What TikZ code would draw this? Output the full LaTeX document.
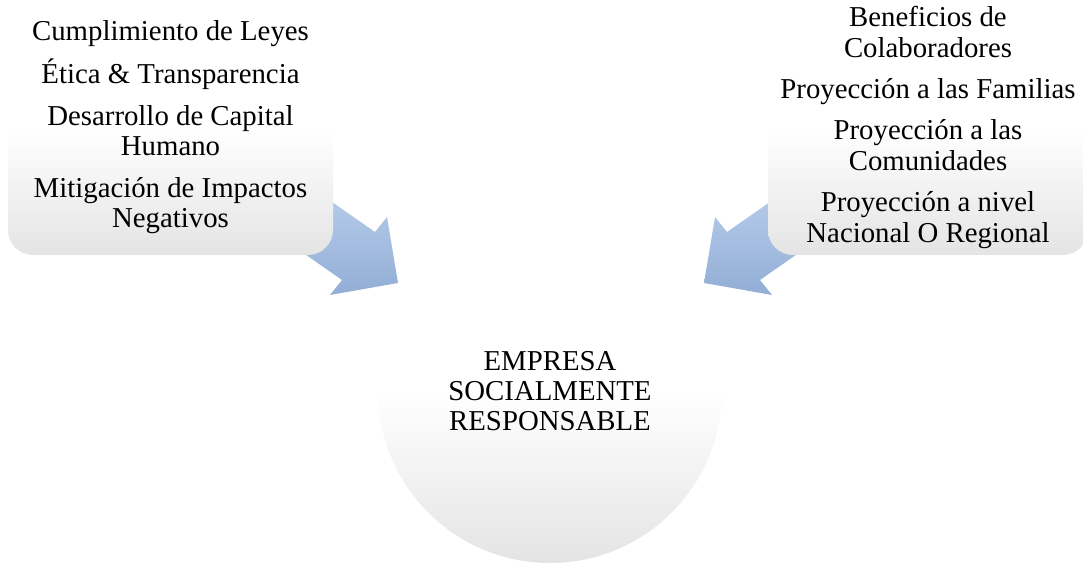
\documentclass[tikz,border=0pt]{standalone}
\usepackage{fontspec}
\setmainfont{Liberation Serif}
\definecolor{grisBajo}{RGB}{228,228,228}
\definecolor{azulAlto}{RGB}{184,205,236}
\definecolor{azulBajo}{RGB}{146,174,213}
\begin{document}
\begin{tikzpicture}[x=0.75pt,y=0.75pt,yscale=-1,xscale=1,
  caja/.style={rounded corners=18.75pt, top color=white, bottom color=grisBajo, middle color=white, inner sep=0pt, align=center},
  flecha/.style={top color=azulAlto, bottom color=azulBajo},
  texto/.style={font=\fontsize{21.6pt}{23pt}\selectfont}]
\useasboundingbox (0,0) rectangle (1083,563);

%Shape: Block Arrow [left]
\path [flecha] (312,188) -- (375,232) -- (387,217) -- (398,283) -- (330,295) -- (342,280) -- (279,236) -- cycle ;
%Shape: Block Arrow [right]
\path [flecha] (790,188) -- (727,232) -- (715,217) -- (704,283) -- (772,295) -- (760,280) -- (823,236) -- cycle ;

% Left Box
\node (izq) [caja, texto, minimum width=243.75pt, minimum height=191.25pt] at (170.5,127.5) {Cumplimiento de Leyes\\[8pt]
  Ética \& Transparencia\\[8pt]
  Desarrollo de Capital\\ Humano\\[8pt]
  Mitigación de Impactos\\ Negativos};
% Right Box
\node (der) [caja, texto, minimum width=240pt, minimum height=191.25pt] at (928,127.5) {Beneficios de\\ Colaboradores\\[8pt]
  Proyección a las Familias\\[8pt]
  Proyección a las\\ Comunidades\\[8pt]
  Proyección a nivel\\ Nacional O Regional};
% Circle
\node (ese) [circle, top color=white, bottom color=grisBajo, middle color=white, minimum size=258pt, inner sep=0pt, align=center, font=\fontsize{21.6pt}{22.5pt}\selectfont] at (550,391) {EMPRESA\\ SOCIALMENTE\\ RESPONSABLE};

\end{tikzpicture}
\end{document}
